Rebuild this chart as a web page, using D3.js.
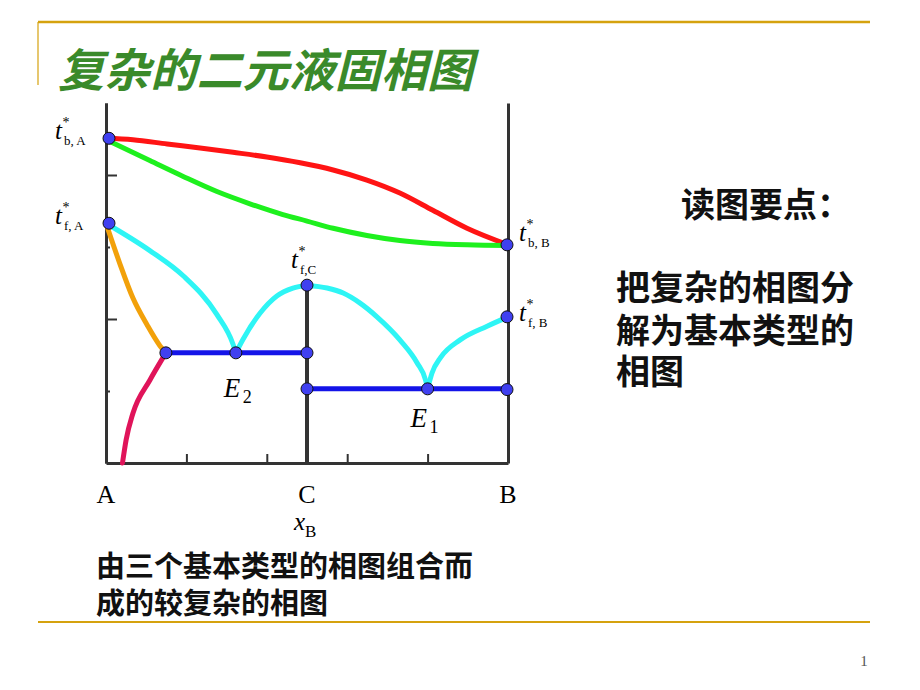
<!DOCTYPE html>
<html><head><meta charset="utf-8">
<script src="https://cdn.jsdelivr.net/npm/d3@7"></script>
<style>
html,body{margin:0;padding:0;background:#fff;}
svg{display:block;}
.serif{font-family:"Liberation Serif","DejaVu Serif",serif;}
.cjk{font-family:"Noto Sans CJK SC",sans-serif;font-weight:700;}
</style></head>
<body>
<svg id="c" width="920" height="690"></svg>
<script>
// ---- data (composition x_B, temperature in arbitrary units) ----
const dewCurve = [[0,4.51],[0.067,4.49],[0.152,4.43],[0.234,4.375],[0.316,4.315],[0.40,4.25],[0.483,4.17],[0.565,4.07],[0.649,3.93],[0.731,3.75],[0.813,3.51],[0.898,3.26],[1,3.03]];
const bubbleCurve = [[0,4.49],[0.109,4.2],[0.192,3.98],[0.276,3.77],[0.358,3.6],[0.44,3.45],[0.5,3.36],[0.565,3.26],[0.649,3.16],[0.731,3.09],[0.813,3.05],[0.898,3.03],[1,3.02]];
const liquidusA = [[0,3.33],[0.109,2.95],[0.192,2.6],[0.276,2.06],[0.316,1.65],[0.323,1.53]];
const liquidusCLeft = [[0.323,1.53],[0.341,1.72],[0.383,2.08],[0.425,2.32],[0.465,2.43],[0.5,2.47]];
const liquidusCRight = [[0.5,2.47],[0.55,2.43],[0.59,2.36],[0.632,2.22],[0.674,2.03],[0.731,1.71],[0.774,1.39],[0.795,1.15],[0.8,1.03]];
const liquidusB = [[0.8,1.03],[0.811,1.25],[0.833,1.47],[0.881,1.71],[0.948,1.9],[1,2.03]];
const solidusAlpha = [[0,3.33],[0.035,2.76],[0.067,2.29],[0.102,1.92],[0.134,1.63],[0.149,1.53]];
const solvusAlpha = [[0.041,0],[0.05,0.32],[0.067,0.69],[0.109,1.15],[0.149,1.53]];
const eutecticLines = [[0.149,0.5,1.53],[0.5,1,1.03]];   // [x1, x2, T]
const compoundLine = [[0.5,2.47],[0.5,0]];
const keyPoints = [[0,4.51],[1,3.03],[0,3.33],[0.5,2.47],[1,2.03],[0.149,1.53],[0.323,1.53],[0.5,1.53],[0.5,1.03],[0.8,1.03],[1,1.02]];
const xTicks = [0.2,0.4,0.6,0.8];
const yMajorTicks = [2,4];
const yMinorTicks = [1,3];
const compLabels = [["A",0],["C",0.5],["B",1]];
const titleText = "复杂的二元液固相图";
const noteLines = ["由三个基本类型的相图组合而","成的较复杂的相图"];
const sideLines = ["读图要点：","把复杂的相图分","解为基本类型的","相图"];

// ---- drawing ----
const svg = d3.select("#c");
const x = d3.scaleLinear().domain([0,1]).range([106,508]);
const y = d3.scaleLinear().domain([0,5]).range([463,103]);
const gold = "#d5a20e";

// slide decoration
svg.append("line").attr("x1",38).attr("x2",870).attr("y1",22).attr("y2",22).attr("stroke",gold).attr("stroke-width",2.5);
svg.append("line").attr("x1",38).attr("x2",38).attr("y1",22).attr("y2",85).attr("stroke",gold).attr("stroke-width",1.2);
svg.append("line").attr("x1",38).attr("x2",870).attr("y1",622).attr("y2",622).attr("stroke",gold).attr("stroke-width",2);
svg.append("text").attr("class","cjk").attr("x",58).attr("y",87).attr("font-size",46)
  .attr("font-style","italic").attr("fill","#3a8a2a").attr("textLength",415).text(titleText);
svg.append("text").attr("class","serif").attr("x",864).attr("y",666).attr("font-size",15)
  .attr("text-anchor","middle").attr("fill","#555").text("1");

// axes / frame
const axColor = "#333";
const gb = svg.append("g").attr("transform",`translate(0,${y(0)})`)
  .call(d3.axisBottom(x).tickValues(xTicks).tickSize(-9).tickSizeOuter(0).tickFormat(""));
const gl = svg.append("g").attr("transform",`translate(${x(0)},0)`)
  .call(d3.axisLeft(y).tickValues(yMajorTicks).tickSize(-11).tickSizeOuter(0).tickFormat(""));
const gl2 = svg.append("g").attr("transform",`translate(${x(0)},0)`)
  .call(d3.axisLeft(y).tickValues(yMinorTicks).tickSize(-4).tickSizeOuter(0).tickFormat(""));
const gr = svg.append("g").attr("transform",`translate(${x(1)},0)`)
  .call(d3.axisRight(y).tickValues([]).tickSizeOuter(0));
[gb,gl,gl2,gr].forEach(g=>{
  g.select(".domain").attr("stroke",axColor).attr("stroke-width",3);
  g.selectAll(".tick line").attr("stroke",axColor).attr("stroke-width",2);
});

const line = d3.line().x(d=>x(d[0])).y(d=>y(d[1])).curve(d3.curveMonotoneX);
function curve(data,color,w){
  svg.append("path").datum(data).attr("d",line).attr("fill","none")
    .attr("stroke",color).attr("stroke-width",w).attr("stroke-linecap","round").attr("stroke-linejoin","round");
}
// compound C vertical line
svg.append("path").datum(compoundLine).attr("d",d3.line().x(d=>x(d[0])).y(d=>y(d[1])))
  .attr("stroke",axColor).attr("stroke-width",4);

curve(dewCurve,"#ff1414",5);
curve(bubbleCurve,"#1ef01e",5);
curve(solidusAlpha,"#f2a10a",5);
curve(solvusAlpha,"#e0145a",5);
curve(liquidusA,"#2ef5f5",5);
curve(liquidusCLeft,"#2ef5f5",5);
curve(liquidusCRight,"#2ef5f5",5);
curve(liquidusB,"#2ef5f5",5);

svg.selectAll(".eut").data(eutecticLines).enter().append("line")
  .attr("x1",d=>x(d[0])).attr("x2",d=>x(d[1])).attr("y1",d=>y(d[2])).attr("y2",d=>y(d[2]))
  .attr("stroke","#1414e8").attr("stroke-width",5);

svg.selectAll(".pt").data(keyPoints).enter().append("ellipse")
  .attr("cx",d=>x(d[0])+(d[0]===0?3:(d[0]===1?-1:0))).attr("cy",d=>y(d[1]))
  .attr("rx",6).attr("ry",6).attr("fill","#4040f0").attr("stroke","#111").attr("stroke-width",1);

// temperature labels
function tLabel(px,py,sub){
  const g = svg.append("g").attr("class","serif");
  g.append("text").attr("x",px).attr("y",py).attr("font-size",25).attr("font-style","italic").text("t");
  g.append("text").attr("x",px+7.5).attr("y",py-12).attr("font-size",14).text("*");
  g.append("text").attr("x",px+9).attr("y",py+6).attr("font-size",13).text(sub);
}
tLabel(x(0)-51,y(4.51)+1,"b, A");
tLabel(x(0)-51,y(3.33)+1,"f, A");
tLabel(x(0.5)-16,y(2.47)-17,"f,C");
tLabel(x(1)+11,y(3.03)-4,"b, B");
tLabel(x(1)+11,y(2.03)+4,"f, B");

// eutectic labels
function eLabel(px,py,sub){
  const g = svg.append("g").attr("class","serif");
  g.append("text").attr("x",px).attr("y",py).attr("font-size",27).attr("font-style","italic").text("E");
  g.append("text").attr("x",px+19).attr("y",py+6).attr("font-size",18).text(sub);
}
eLabel(x(0.323)-12,y(1.53)+44,"2");
eLabel(x(0.8)-17,y(1.03)+38,"1");

// composition labels
svg.selectAll(".cl").data(compLabels).enter().append("text").attr("class","serif")
  .attr("x",d=>x(d[1])).attr("y",503).attr("text-anchor","middle").attr("font-size",26).text(d=>d[0]);
const xb = svg.append("g").attr("class","serif");
xb.append("text").attr("x",294).attr("y",530).attr("font-size",25).attr("font-style","italic").text("x");
xb.append("text").attr("x",305).attr("y",537).attr("font-size",17).text("B");

// notes
svg.selectAll(".note").data(noteLines).enter().append("text").attr("class","cjk")
  .attr("x",96).attr("y",(d,i)=>577+i*37).attr("font-size",29).attr("fill","#111").text(d=>d);
svg.selectAll(".side").data(sideLines).enter().append("text").attr("class","cjk")
  .attr("x",(d,i)=>i===0?681:616).attr("y",(d,i)=>[217,300,343,384][i]).attr("font-size",34).attr("fill","#111").text(d=>d);
</script>
</body></html>
